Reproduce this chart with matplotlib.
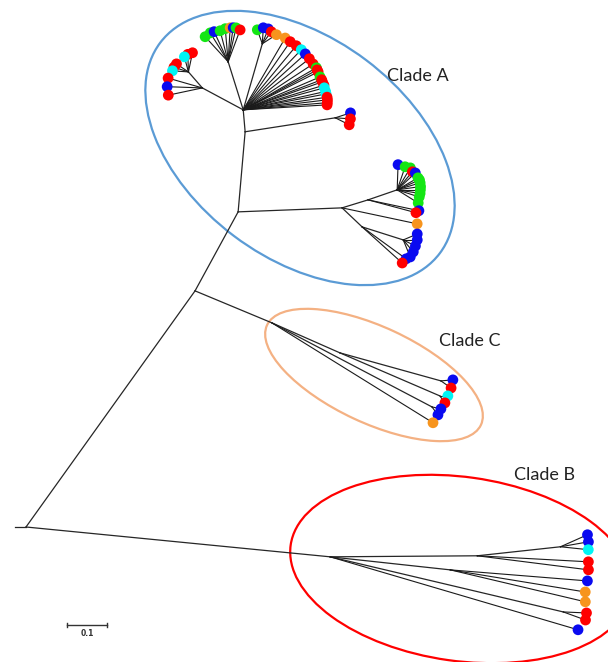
import numpy as np
import matplotlib.pyplot as plt
from matplotlib.patches import Ellipse

# Internal branches: (node, parent, branch length in subst./site, direction in degrees)
backbone = [
    ('stub', 'root', 0.028, 180.0),
    ('B0', 'root', 0.764, -5.6),
    ('B1', 'B0', 0.368, 0.4),
    ('B2', 'B1', 0.209, 6.2),
    ('B3', 'B0', 0.302, -6.2),
    ('B4', 'B0', 0.599, -13.3),
    ('N1', 'root', 0.726, 54.4),
    ('C0', 'N1', 0.208, -22.6),
    ('C1', 'C0', 0.186, -23.8),
    ('C2', 'C1', 0.262, -15.5),
    ('C3', 'C1', 0.272, -23.3),
    ('C4', 'C0', 0.452, -27.7),
    ('A1', 'N1', 0.225, 61.4),
    ('L0', 'A1', 0.260, 2.2),
    ('L1', 'L0', 0.068, 17.1),
    ('L2', 'L1', 0.077, 19.0),
    ('L3', 'L0', 0.069, -43.5),
    ('L4', 'L3', 0.108, -17.6),
    ('A2', 'A1', 0.201, 85.0),
    ('A3', 'A2', 0.228, 8.8),
    ('F', 'A2', 0.055, 95.0),
    ('G1', 'F', 0.116, 151.8),
    ('G2', 'G1', 0.053, 131.0),
    ('G3', 'F', 0.126, 107.4),
    ('G4', 'F', 0.172, 73.9),
]

# Leaves: (parent, branch length, direction, host group)
clade_a_tips = [
    ('L2', 0.063, 88, 'b'), ('L2', 0.061, 71, 'g'), ('L2', 0.064, 59, 'g'),
    ('L2', 0.059, 50, 'r'), ('L2', 0.062, 43, 'b'), ('L2', 0.060, 30, 'g'),
    ('L2', 0.061, 24, 'g'), ('L2', 0.060, 17, 'g'), ('L2', 0.059, 8, 'g'),
    ('L2', 0.058, 0, 'g'), ('L2', 0.058, -9, 'g'), ('L2', 0.058, -18, 'g'),
    ('L2', 0.062, -32, 'g'),
    ('L1', 0.130, -12, 'b'), ('L1', 0.124, -15, 'r'),
    ('L0', 0.192, -12, 'o'),
    ('L4', 0.038, 23, 'b'), ('L4', 0.035, 0, 'b'), ('L4', 0.034, -26.6, 'b'),
    ('L4', 0.039, -50, 'b'), ('L4', 0.046, -67.6, 'b'),
    ('L3', 0.136, -36, 'b'), ('L3', 0.135, -42, 'r'),
    ('A3', 0.040, 18, 'b'), ('A3', 0.038, -4, 'r'), ('A3', 0.039, -26.6, 'r'),
    ('G2', 0.049, 78, 'r'), ('G2', 0.044, 92, 'r'), ('G2', 0.039, 105, 'c'),
    ('G2', 0.036, 146, 'r'), ('G2', 0.038, 162, 'r'), ('G2', 0.040, 176, 'c'),
    ('G1', 0.089, 164, 'r'), ('G1', 0.088, 178, 'b'), ('G1', 0.087, -168, 'r'),
    ('G3', 0.085, 132.6, 'g'), ('G3', 0.085, 121.8, 'g'), ('G3', 0.083, 115, 'b'),
    ('G3', 0.080, 104.5, 'g'), ('G3', 0.083, 95, 'g'), ('G3', 0.085, 86.6, 'o'),
    ('G3', 0.086, 81.6, 'b'), ('G3', 0.087, 76.8, 'g'), ('G3', 0.085, 69.4, 'r'),
    ('G4', 0.037, 109.7, 'g'), ('G4', 0.040, 86.4, 'b'), ('G4', 0.040, 68, 'b'),
    ('G4', 0.0375, 53, 'r'), ('G4', 0.042, 32.7, 'o'),
    ('F', 0.208, 59.7, 'o'), ('F', 0.207, 55.4, 'r'), ('F', 0.208, 50.4, 'r'),
    ('F', 0.209, 46, 'c'), ('F', 0.209, 42, 'b'), ('F', 0.209, 37.7, 'r'),
    ('F', 0.209, 33.3, 'r'), ('F', 0.211, 29.9, 'g'), ('F', 0.210, 28.4, 'r'),
    ('F', 0.210, 26.9, 'r'), ('F', 0.209, 23.2, 'g'), ('F', 0.210, 21.0, 'r'),
    ('F', 0.210, 19.5, 'r'), ('F', 0.211, 17.0, 'r'), ('F', 0.210, 15.2, 'c'),
    ('F', 0.211, 12.6, 'c'), ('F', 0.211, 10.9, 'c'), ('F', 0.212, 8.6, 'r'),
    ('F', 0.212, 6.8, 'r'), ('F', 0.211, 4.9, 'r'), ('F', 0.210, 3.4, 'r'),
]

clade_c_tips = [
    ('C2', 0.030, 4.8, 'b'), ('C2', 0.031, -35, 'r'),
    ('C3', 0.020, 0, 'c'), ('C3', 0.0215, -54, 'r'),
    ('C4', 0.023, -12.5, 'b'), ('C4', 0.025, -53, 'b'),
    ('C0', 0.474, -31.8, 'o'),
]

clade_b_tips = [
    ('B2', 0.074, 24, 'b'), ('B2', 0.071, 10, 'b'), ('B2', 0.070, -6, 'c'),
    ('B1', 0.278, -3.1, 'r'), ('B1', 0.280, -7.2, 'r'),
    ('B3', 0.344, -4.6, 'b'), ('B3', 0.342, -9.3, 'o'), ('B3', 0.347, -13.3, 'o'),
    ('B4', 0.058, -2.5, 'r'), ('B4', 0.059, -20, 'r'),
    ('B0', 0.646, -16.4, 'b'),
]

group_colors = {'r': '#FF0000', 'b': '#0A0AF0', 'g': '#14E614',
                'c': '#00F5F5', 'o': '#F7941D'}

clade_names = ['Clade A', 'Clade C', 'Clade B']
scale_length = 0.1


def step(start, length, angle):
    a = np.deg2rad(angle)
    return start[0] + length * np.cos(a), start[1] + length * np.sin(a)


def main():
    fig = plt.figure(figsize=(6.08, 6.62), dpi=100)
    ax = fig.add_axes([0, 0, 1, 1])

    # Layout nodes from branch lengths
    pos = {'root': (0.0, 0.0)}
    for node, parent, length, angle in backbone:
        pos[node] = step(pos[parent], length, angle)
        xs = [pos[parent][0], pos[node][0]]
        ys = [pos[parent][1], pos[node][1]]
        ax.plot(xs, ys, color='#262626', lw=0.9, zorder=2)

    tip_x, tip_y, tip_c = [], [], []
    for tips in (clade_a_tips, clade_c_tips, clade_b_tips):
        for parent, length, angle, grp in tips:
            x, y = step(pos[parent], length, angle)
            ax.plot([pos[parent][0], x], [pos[parent][1], y],
                    color='#1a1a1a', lw=0.8, zorder=2)
            tip_x.append(x)
            tip_y.append(y)
            tip_c.append(group_colors[grp])
    ax.scatter(tip_x, tip_y, s=60, c=tip_c, edgecolors='none', zorder=3)

    # Clade outlines
    ax.add_patch(Ellipse((0.685, 0.9475), 0.875, 0.55, angle=-37,
                         fill=False, ec='#5B9BD5', lw=1.6, zorder=1))
    ax.add_patch(Ellipse((0.87, 0.38), 0.59, 0.24, angle=-25,
                         fill=False, ec='#F4B183', lw=1.6, zorder=1))
    ax.add_patch(Ellipse((1.0875, -0.105), 0.86, 0.46, angle=-8,
                         fill=False, ec='#FF0000', lw=1.6, zorder=1))

    label_pos = [(0.98, 1.1275), (1.11, 0.465), (1.295, 0.13)]
    for name, (x, y) in zip(clade_names, label_pos):
        ax.text(x, y, name, fontsize=13, family='Lato', color='#222222',
                ha='center', va='center')

    # Scale bar
    x0, y0 = 0.1025, -0.245
    ax.plot([x0, x0 + scale_length], [y0, y0], color='#333333', lw=1.0)
    for xe in (x0, x0 + scale_length):
        ax.plot([xe, xe], [y0 - 0.005, y0 + 0.005], color='#333333', lw=1.0)
    ax.text(x0 + scale_length / 2, y0 - 0.0225, f'{scale_length:g}',
            fontsize=5.5, fontweight='bold', color='#333333',
            ha='center', va='center')

    ax.set_xlim(-0.065, 1.455)
    ax.set_ylim(-0.3375, 1.3175)
    ax.axis('off')

    fig.savefig('out.png', dpi=100)


if __name__ == '__main__':
    main()
